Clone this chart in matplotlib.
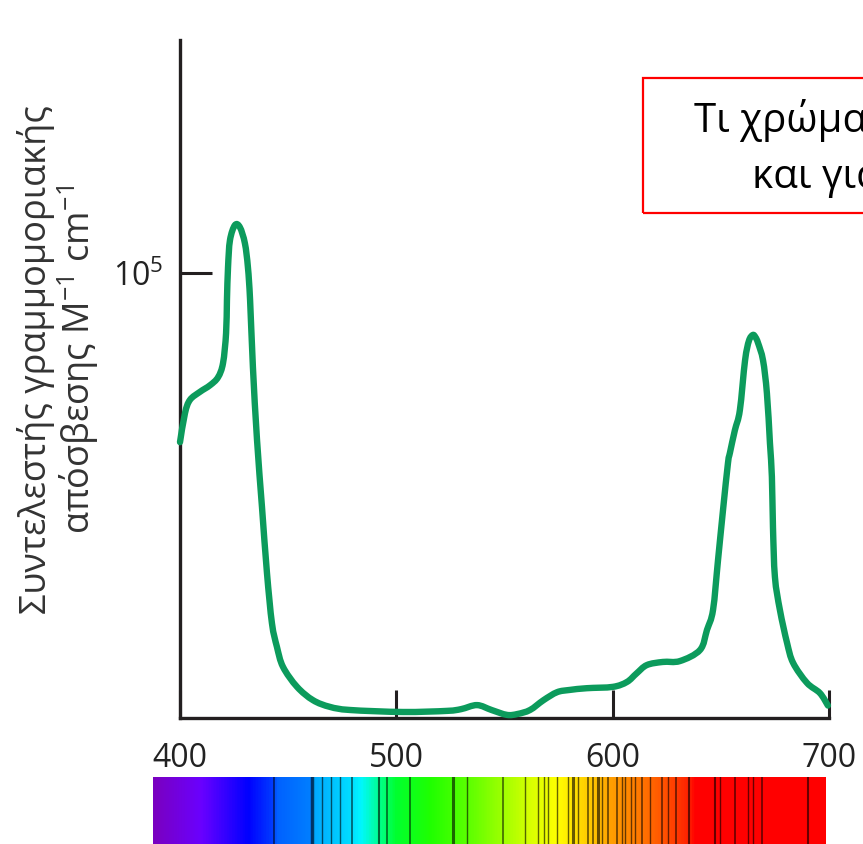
import numpy as np
import matplotlib
matplotlib.use("Agg")
import matplotlib.pyplot as plt
from matplotlib.colors import LinearSegmentedColormap, to_rgb
from matplotlib.patches import Rectangle, PathPatch
from matplotlib.path import Path

# ---------------- data ----------------
wavelength_nm = [400, 402.3, 404.6, 409.2, 413.9, 417.6, 419.9, 421.3, 421.7, 422.2,
                 423.1, 425.4, 427.7, 430.0, 431.4, 432.4, 433.7, 435.6, 437.9, 440.2,
                 442.5, 444.8, 447.6, 454.1, 461.5, 469.3, 478.6, 503.1, 523.4, 530,
                 537.3, 544, 551.1, 556, 561.8, 568, 574.3, 580, 588.1, 600.1,
                 606.6, 611, 615.8, 623.2, 631.1, 640.4, 643.6, 646.4, 648.7, 651.0,
                 653.3, 654.2, 656.5, 658.8, 661.2, 663.0, 664.8, 666.0, 667.2, 669.5,
                 671.3, 672.7, 673.6, 674.1, 675.0, 677.3, 680.6, 683.4, 689.8, 695.8,
                 699.5]
epsilon = [62000, 68500, 71500, 73300, 74800, 76600, 79800, 86500, 93900, 101300,
           107400, 110800, 110300, 106700, 101300, 93900, 78900, 62500, 47400, 32600,
           21300, 16000, 11500, 7000, 4000, 2500, 1800, 1350, 1600, 2000,
           2900, 1800, 700, 900, 1800, 4000, 5800, 6300, 6700, 7000,
           8100, 10000, 11900, 12600, 12800, 15300, 19800, 24300, 35500, 46700,
           57300, 59600, 64700, 69200, 80400, 84800, 86100, 85600, 84300, 80400,
           73000, 61800, 54200, 42900, 31700, 24300, 16900, 12400, 7900, 5600,
           2800]

x_ticks = [400, 500, 600, 700]
y_ticks = [1e5]
y_tick_labels = [r"$10^5$"]

ylabel_lines = ["Συντελεστής γραμμομοριακής", r"απόσβεσης M$^{-1}$ cm$^{-1}$"]
question_lines = ["Τι χρώμα έχει η χλωροφύλλη;", "και γιατί;"]

# spectrum strip: colour stops (nm, colour) and dark absorption lines (nm, width)
spectrum_stops_nm = [387.5, 409.2, 431.0, 443.0, 443.9, 460.6, 461.5, 479.5, 483.2, 491.5,
                     499.4, 515.6, 534.1, 549.3, 561.8, 574.3, 582.6, 594.1, 598.8, 612.6,
                     624.2, 635.3, 638.1, 698.1]
spectrum_stop_colors = ["#7a00c0", "#6a00ff", "#0000ff", "#0040ff", "#0060ff", "#0080ff",
                        "#00a8ff", "#00e0ff", "#00f8ff", "#00ff90", "#00ff30", "#20ff00",
                        "#60ff00", "#a0ff00", "#d8ff00", "#ffff00", "#ffe000", "#ffb800",
                        "#ffa000", "#ff7800", "#ff5000", "#ff2000", "#ff0000", "#ff0000"]
line_nm = [443.5, 461.0, 465.6, 469.8, 474.0, 479.5, 492.0, 495.7, 506.3, 526.2,
           532.7, 549.3, 559.5, 565.5, 568.3, 570.1, 574.3, 579.4, 581.7, 584.0,
           588.6, 590.9, 593.2, 595.1, 597.8, 602.0, 604.3, 605.7, 608.5, 610.3,
           613.6, 617.3, 622.8, 625.6, 629.3, 635.3, 647.3, 649.6, 656.5, 662.6,
           664.9, 669.0, 690.3]
line_width = [1.2, 2.5, 1.0, 1.0, 1.0, 1.2, 1.5, 1.2, 1.2, 2.2,
              1.0, 1.2, 1.0, 1.0, 1.0, 1.0, 1.0, 1.0, 2.2, 1.0,
              1.2, 1.2, 2.2, 1.0, 1.2, 1.2, 1.0, 1.0, 1.0, 1.0,
              1.2, 1.0, 1.2, 1.0, 1.2, 1.5, 1.5, 1.0, 1.2, 1.0,
              1.0, 1.2, 1.5]

# ---------------- figure ----------------
W, H, DPI = 863, 844, 100
fig = plt.figure(figsize=(W / DPI, H / DPI), dpi=DPI)
FONT = "Open Sans"
plt.rcParams["font.family"] = [FONT, "DejaVu Sans"]
plt.rcParams["mathtext.fontset"] = "custom"
plt.rcParams["mathtext.rm"] = FONT
plt.rcParams["mathtext.it"] = FONT


def fx(px):
    return px / W


def fy(py):
    return 1 - py / H


def smooth_path(xs, ys):
    """Catmull-Rom curve through the given points, as cubic Bezier segments."""
    p = np.column_stack([xs, ys]).astype(float)
    ext = np.vstack([p[0], p, p[-1]])
    verts = [p[0]]
    codes = [Path.MOVETO]
    for i in range(1, len(ext) - 2):
        p0, p1, p2, p3 = ext[i - 1], ext[i], ext[i + 1], ext[i + 2]
        c1 = p1 + (p2 - p0) / 6.0
        c2 = p2 - (p3 - p1) / 6.0
        verts += [c1, c2, p2]
        codes += [Path.CURVE4] * 3
    return Path(verts, codes)


axis_color = "#231f20"
ax_l, ax_r, ax_t, ax_b = 180, 829, 40, 718
ax = fig.add_axes([fx(ax_l), fy(ax_b), fx(ax_r) - fx(ax_l), fy(ax_t) - fy(ax_b)])
ax.add_patch(PathPatch(smooth_path(wavelength_nm, epsilon), facecolor="none",
                       edgecolor="#0c9b5c", lw=4.6, joinstyle="round", capstyle="round",
                       clip_on=False, zorder=3))
ax.set_xlim(400, 700)
ax.set_ylim(0, 152400)
for s in ["top", "right"]:
    ax.spines[s].set_visible(False)
for s in ["left", "bottom"]:
    ax.spines[s].set_color(axis_color)
    ax.spines[s].set_linewidth(2.4)
ax.set_xticks(x_ticks)
ax.set_xticklabels([str(t) for t in x_ticks])
ax.set_yticks(y_ticks)
ax.set_yticklabels(y_tick_labels)
ax.tick_params(axis="x", direction="in", length=20, width=2.2, color=axis_color,
               labelsize=23, pad=17, labelcolor="#222222")
ax.tick_params(axis="y", direction="in", length=23, width=2.2, color=axis_color,
               labelsize=23, pad=12, labelcolor="#222222")
ax.patch.set_alpha(0)

# y label
fig.text(fx(59), fy(360), "\n".join(ylabel_lines), rotation=90, ha="center", va="center",
         multialignment="center", fontsize=26, color="#333333", linespacing=1.05)

# question box (the reference crops it at the right edge)
fig.patches.append(Rectangle((fx(643), fy(213)), fx(900) - fx(643), fy(78) - fy(213),
                             transform=fig.transFigure, fill=False, edgecolor="#ff0000",
                             lw=1.6, figure=fig))
fig.text(fx(694), fy(132), question_lines[0], ha="left", va="baseline", fontsize=29,
         color="black")
fig.text(fx(752), fy(188), question_lines[1], ha="left", va="baseline", fontsize=29,
         color="black")

# spectrum strip
bar_l, bar_r, bar_t, bar_b = 153, 825, 777, 844
bax = fig.add_axes([fx(bar_l), fy(bar_b), fx(bar_r) - fx(bar_l), fy(bar_t) - fy(bar_b)])
lo, hi = spectrum_stops_nm[0], spectrum_stops_nm[-1]
cmap = LinearSegmentedColormap.from_list(
    "spec", [((v - lo) / (hi - lo), to_rgb(c)) for v, c in zip(spectrum_stops_nm, spectrum_stop_colors)])
grad = np.linspace(0, 1, 1200)[None, :]
bax.imshow(grad, aspect="auto", cmap=cmap, extent=[lo, hi, 0, 1], interpolation="bilinear")
for x, w in zip(line_nm, line_width):
    bax.axvline(x, color="black", alpha=0.6, lw=w)
bax.set_xlim(lo, hi)
bax.set_ylim(0, 1)
bax.axis("off")

fig.savefig("out.png", dpi=DPI)
